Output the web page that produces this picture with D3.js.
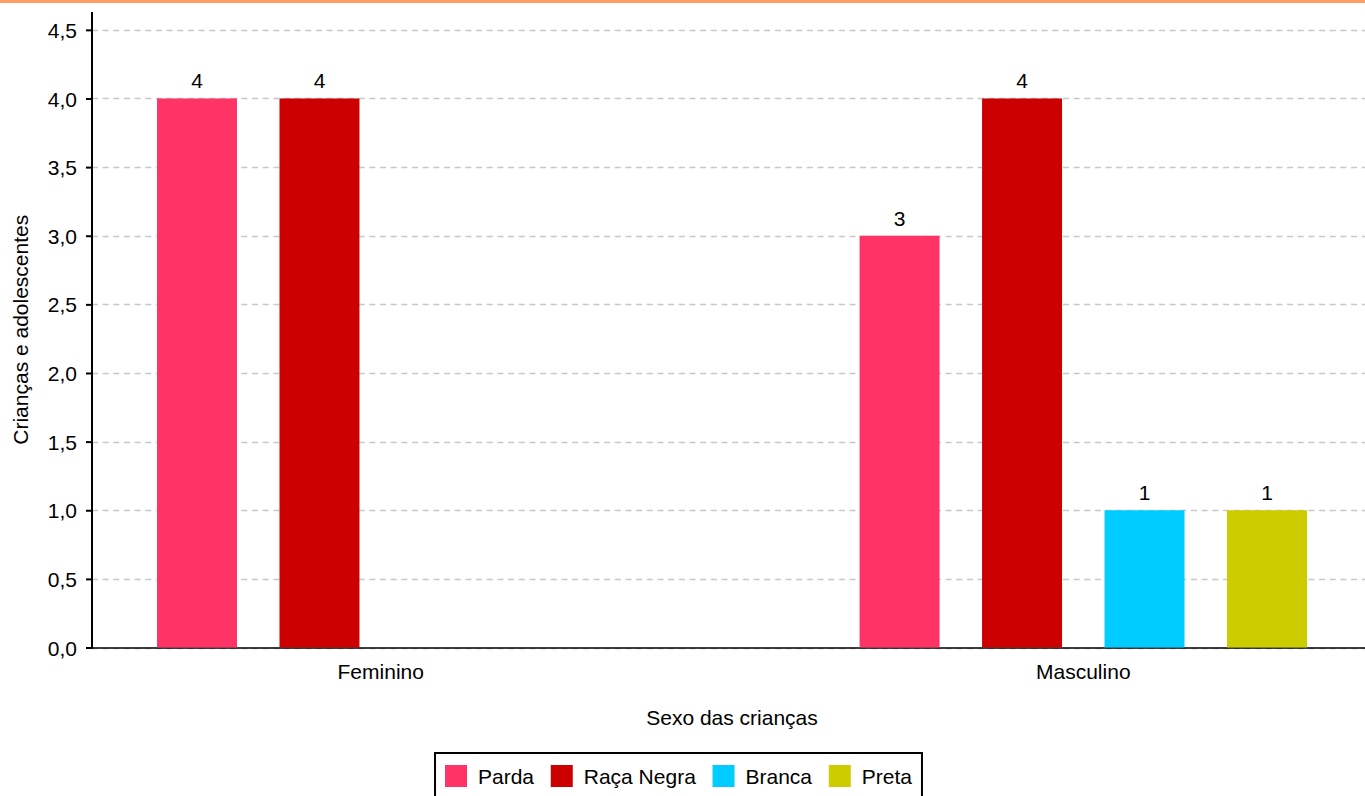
<!DOCTYPE html>
<html>
<head>
<meta charset="utf-8">
<script src="https://cdn.jsdelivr.net/npm/d3@7"></script>
<style>
  html, body { margin: 0; padding: 0; background: #fff; overflow: hidden; }
  svg { display: block; font-family: "Liberation Sans", Arial, sans-serif; }
</style>
</head>
<body>
<svg id="chart" width="1365" height="796"></svg>
<script>
const categories = ["Feminino", "Masculino"];
const seriesNames = ["Parda", "Raça Negra", "Branca", "Preta"];
const seriesColors = ["#ff3366", "#cc0000", "#00ccff", "#cccc00"];
const parda = [4, 3];
const racaNegra = [4, 4];
const branca = [null, 1];
const preta = [null, 1];
const yTicks = [0, 0.5, 1, 1.5, 2, 2.5, 3, 3.5, 4, 4.5];
const xTitle = "Sexo das crianças";
const yTitle = "Crianças e adolescentes";

(function () {
const seriesValues = [parda, racaNegra, branca, preta];

const svg = d3.select("#chart");
const W = 1365, H = 796;
const pLeft = 92, pRight = 1372, pTop = 12, pBottom = 647.5;
const fs = 21;

// top orange strip
svg.append("rect").attr("x", 0).attr("y", 0).attr("width", W).attr("height", 3).attr("fill", "#ff9f66");

const y = d3.scaleLinear().domain([0, 4.63]).range([pBottom, pTop]);
const x0 = d3.scaleBand().domain(categories).range([pLeft, pRight]).paddingInner(0.3027).paddingOuter(0.0623);
const x1 = d3.scaleBand().domain(seriesNames).range([0, x0.bandwidth()]).paddingInner(0.347).paddingOuter(0.1735);

// grid
svg.append("g").selectAll("line").data(yTicks).join("line")
  .attr("x1", pLeft).attr("x2", W)
  .attr("y1", d => Math.round(y(d)) + 0.5).attr("y2", d => Math.round(y(d)) + 0.5)
  .attr("stroke", "#c8c8c8").attr("stroke-width", 1.3).attr("stroke-dasharray", "6,4.67");

// bars
const rows = [];
categories.forEach((c, ci) => {
  seriesNames.forEach((s, si) => {
    const v = seriesValues[si][ci];
    if (v !== null && v !== undefined) rows.push({ c, s, v, color: seriesColors[si] });
  });
});

// x baseline
svg.append("line").attr("x1", pLeft).attr("x2", W).attr("y1", pBottom + 0.5).attr("y2", pBottom + 0.5)
  .attr("stroke", "#000").attr("stroke-width", 1.5);

const barG = svg.append("g");
barG.selectAll("rect").data(rows).join("rect")
  .attr("x", d => x0(d.c) + x1(d.s))
  .attr("y", d => y(d.v))
  .attr("width", x1.bandwidth())
  .attr("height", d => y(0) - y(d.v))
  .attr("fill", d => d.color);

barG.selectAll("text").data(rows).join("text")
  .attr("x", d => x0(d.c) + x1(d.s) + x1.bandwidth() / 2)
  .attr("y", d => y(d.v) - 10)
  .attr("text-anchor", "middle")
  .attr("font-size", fs).attr("fill", "#000")
  .text(d => d3.format("d")(d.v));

// y axis
const fmt = v => d3.format(".1f")(v).replace(".", ",");
const yAxis = svg.append("g").attr("transform", `translate(${pLeft},0)`)
  .call(d3.axisLeft(y).tickValues(yTicks).tickFormat(fmt).tickSize(6).tickPadding(9));
yAxis.select(".domain").remove();
yAxis.selectAll(".tick line").attr("stroke", "#000").attr("stroke-width", 2);
yAxis.selectAll(".tick text").attr("font-size", fs).attr("fill", "#000").attr("font-family", "Liberation Sans, Arial, sans-serif").attr("dy", "0.36em");
svg.append("line").attr("x1", pLeft).attr("x2", pLeft).attr("y1", pTop).attr("y2", pBottom + 1.2)
  .attr("stroke", "#000").attr("stroke-width", 2);

// x axis labels
const xAxis = svg.append("g").attr("transform", `translate(0,${pBottom})`)
  .call(d3.axisBottom(x0).tickSize(0).tickPadding(17));
xAxis.select(".domain").remove();
xAxis.selectAll(".tick text").attr("font-size", fs).attr("fill", "#000").attr("font-family", "Liberation Sans, Arial, sans-serif");

// titles
svg.append("text").attr("x", (pLeft + pRight) / 2).attr("y", 725)
  .attr("text-anchor", "middle").attr("font-size", fs).attr("fill", "#000").text(xTitle);
svg.append("text").attr("transform", `translate(28,${(pTop + pBottom) / 2}) rotate(-90)`)
  .attr("text-anchor", "middle").attr("font-size", fs).attr("fill", "#000").text(yTitle);

// legend
const legend = svg.append("g");
const box = legend.append("rect").attr("fill", "#fff").attr("stroke", "#000").attr("stroke-width", 2);
const items = legend.selectAll("g.item").data(seriesNames).join("g").attr("class", "item");
items.append("rect").attr("width", 22).attr("height", 22).attr("y", 765).attr("fill", (d, i) => seriesColors[i]);
items.append("text").attr("y", 783.5).attr("font-size", fs).attr("fill", "#000").text(d => d);
let cx = 0;
const pos = [];
items.each(function () {
  const t = d3.select(this).select("text").node().getComputedTextLength();
  pos.push(cx);
  cx += 22 + 11 + t + 16.7;
});
const innerW = cx - 16.7;
const boxW = innerW + 20;
const boxX = 678.5 - boxW / 2;
items.each(function (d, i) {
  const g = d3.select(this);
  g.select("rect").attr("x", boxX + 10 + pos[i]);
  g.select("text").attr("x", boxX + 10 + pos[i] + 33);
});
box.attr("x", boxX).attr("y", 753).attr("width", boxW).attr("height", 60);
})();
</script>
</body>
</html>
